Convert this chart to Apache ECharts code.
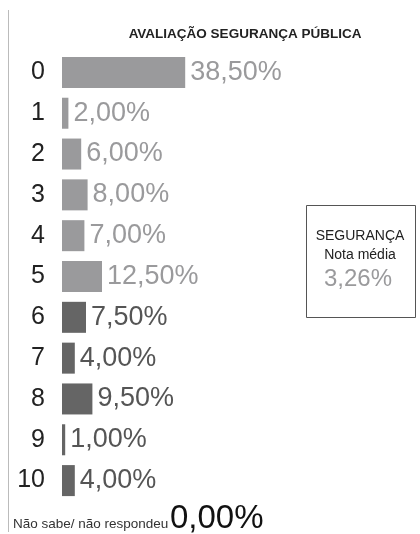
<!DOCTYPE html>
<html lang="pt">

<head>
    <meta charset="UTF-8">
    <title>Avaliação Segurança Pública</title>
    <script src="https://cdn.jsdelivr.net/npm/echarts/dist/echarts.min.js"></script>
    <style>
        body { margin: 0; background: #fff; }
    </style>
</head>

<body>
    <div id="chart" style="width: 420px; height: 534px;"></div>
    <script>
        // notas 0..10 e percentuais
        const notas = ['0', '1', '2', '3', '4', '5', '6', '7', '8', '9', '10'];
        const percentuais = [38.5, 2.0, 6.0, 8.0, 7.0, 12.5, 7.5, 4.0, 9.5, 1.0, 4.0];
        const naoSabeLabel = 'Não sabe/ não respondeu';
        const naoSabeValor = 0.0;
        const notaMedia = 3.26;

        const fmt = v => v.toFixed(2).replace('.', ',') + '%';

        // notas 6+ aparecem em cinza escuro
        const seriesData = percentuais.map((v, i) => {
            const dark = i >= 6;
            return {
                value: v,
                itemStyle: { color: dark ? '#656565' : '#9a9a9c' },
                label: { color: dark ? '#555' : '#9a9a9c' }
            };
        });

        const chart = echarts.init(document.getElementById('chart'));

        const options = {
            animation: false,
            textStyle: { fontFamily: 'Liberation Sans, Arial, sans-serif' },
            title: {
                text: 'AVALIAÇÃO SEGURANÇA PÚBLICA',
                left: 240,
                top: 22,
                textAlign: 'center',
                textStyle: { fontSize: 13.5, fontWeight: 'bold', color: '#222' }
            },
            grid: { left: 62, top: 52, width: 320, height: 449 },
            xAxis: {
                type: 'value',
                min: 0,
                max: 100,
                show: false
            },
            yAxis: {
                type: 'category',
                inverse: true,
                data: notas,
                axisLine: { show: false },
                axisTick: { show: false },
                axisLabel: { fontSize: 25, color: '#222', margin: 17 }
            },
            series: [{
                type: 'bar',
                data: seriesData,
                barWidth: 31,
                label: {
                    show: true,
                    position: 'right',
                    distance: 5,
                    fontSize: 27,
                    formatter: p => fmt(p.value)
                }
            }],
            graphic: [
                {
                    type: 'line',
                    shape: { x1: 8.5, y1: 10, x2: 8.5, y2: 532 },
                    style: { stroke: '#bbb', lineWidth: 1 }
                },
                {
                    type: 'rect',
                    shape: { x: 306.5, y: 205.5, width: 109, height: 112 },
                    style: { fill: '#fff', stroke: '#555', lineWidth: 1 }
                },
                {
                    type: 'text',
                    x: 360, y: 236,
                    style: { text: 'SEGURANÇA', fontSize: 14, fill: '#222', align: 'center', verticalAlign: 'middle', fontFamily: 'Liberation Sans' }
                },
                {
                    type: 'text',
                    x: 360, y: 255,
                    style: { text: 'Nota média', fontSize: 14, fill: '#222', align: 'center', verticalAlign: 'middle', fontFamily: 'Liberation Sans' }
                },
                {
                    type: 'text',
                    x: 358, y: 279,
                    style: { text: fmt(notaMedia), fontSize: 24, fill: '#9a9a9c', align: 'center', verticalAlign: 'middle', fontFamily: 'Liberation Sans' }
                },
                {
                    type: 'text',
                    x: 13, y: 531,
                    style: { text: naoSabeLabel, fontSize: 13.5, fill: '#333', align: 'left', verticalAlign: 'bottom', fontFamily: 'Liberation Sans' }
                },
                {
                    type: 'text',
                    x: 170, y: 535,
                    style: { text: fmt(naoSabeValor), fontSize: 33, fill: '#111', align: 'left', verticalAlign: 'bottom', fontFamily: 'Liberation Sans' }
                }
            ]
        };

        chart.setOption(options);
    </script>
</body>

</html>
